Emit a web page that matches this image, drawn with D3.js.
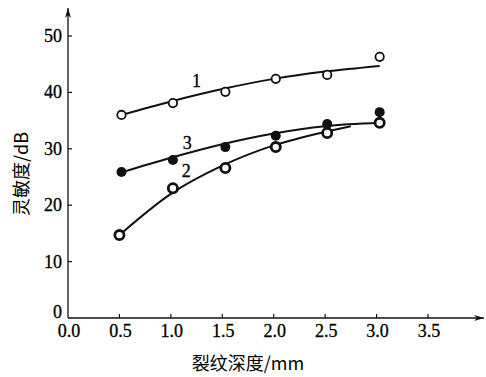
<html>
<head>
<meta charset="UTF-8">
<title>灵敏度-裂纹深度</title>
<style>
  body { margin: 0; background: #fff; }
  svg text { fill: #000; }
  svg text.num { stroke: #000; stroke-width: 0.3px; }
</style>
</head>
<body>
<div id="chart"></div>
<script src="https://cdnjs.cloudflare.com/ajax/libs/d3/7.8.4/d3.min.js"></script>
<script>
// measured points
const depth = [0.52, 1.02, 1.53, 2.02, 2.52, 3.03];
const series1 = [36.0, 38.1, 40.1, 42.4, 43.1, 46.3];
const series3 = [25.9, 28.0, 30.3, 32.3, 34.4, 36.5];
const depth2 = [0.5, 1.02, 1.53, 2.02, 2.52, 3.03];
const series2 = [14.7, 23.0, 26.6, 30.3, 32.8, 34.6];

// fitted curves
const fit1x = [0.52, 1.0, 1.5, 2.0, 2.5, 3.03];
const fit1y = [36.0, 38.4, 40.6, 42.4, 43.7, 44.7];
const fit3x = [0.52, 1.0, 1.5, 2.0, 2.5, 3.03];
const fit3y = [25.8, 28.4, 30.8, 32.7, 34.0, 34.6];
const fit2x = [0.5, 1.0, 1.5, 2.0, 2.5, 2.75];
const fit2y = [14.7, 22.0, 27.0, 30.6, 33.0, 34.0];

const xTicks = [0.0, 0.5, 1.0, 1.5, 2.0, 2.5, 3.0, 3.5];
const yTicks = [0, 10, 20, 30, 40, 50];

const W = 486, H = 377;
const svg = d3.select("#chart").append("svg")
  .attr("width", W).attr("height", H);

const x = d3.scaleLinear().domain([0, 3.5]).range([68, 428]);
const y = d3.scaleLinear().domain([0, 50]).range([318, 36]);

const serif = "'Liberation Serif', 'DejaVu Serif', serif";
const cjk = "'Noto Sans CJK SC', sans-serif";

// axes lines with arrows
svg.append("defs").append("marker")
  .attr("id", "arr").attr("viewBox", "0 0 10 6")
  .attr("refX", 10).attr("refY", 3)
  .attr("markerWidth", 10).attr("markerHeight", 6)
  .attr("markerUnits", "userSpaceOnUse")
  .attr("orient", "auto")
  .append("path").attr("d", "M0,0 L10,3 L0,6 L3,3 Z").attr("fill", "#111");

svg.append("line").attr("x1", x(0)).attr("y1", y(0)).attr("x2", 484).attr("y2", y(0))
  .attr("stroke", "#111").attr("stroke-width", 1.3).attr("marker-end", "url(#arr)");
svg.append("line").attr("x1", x(0)).attr("y1", y(0)).attr("x2", x(0)).attr("y2", 8)
  .attr("stroke", "#111").attr("stroke-width", 1.3).attr("marker-end", "url(#arr)");

// x ticks
const xg = svg.append("g");
xg.selectAll("line").data(xTicks.slice(1)).enter().append("line")
  .attr("x1", d => x(d)).attr("x2", d => x(d))
  .attr("y1", y(0)).attr("y2", y(0) - 4)
  .attr("stroke", "#111").attr("stroke-width", 1.2);
xg.selectAll("text").data(xTicks).enter().append("text")
  .attr("class", "num")
  .attr("x", d => x(d) + 1).attr("y", 337)
  .attr("text-anchor", "middle")
  .style("font-family", serif).style("font-size", "18px")
  .text(d => d.toFixed(1));

// y ticks (the 0 label sits a little higher, clear of 0.0)
const yg = svg.append("g");
yg.selectAll("line").data(yTicks.slice(1)).enter().append("line")
  .attr("x1", x(0)).attr("x2", x(0) + 4)
  .attr("y1", d => y(d)).attr("y2", d => y(d))
  .attr("stroke", "#111").attr("stroke-width", 1.2);
yg.selectAll("text").data(yTicks).enter().append("text")
  .attr("class", "num")
  .attr("x", 62).attr("y", d => d === 0 ? 318 : y(d) + 6)
  .attr("text-anchor", "end")
  .style("font-family", serif).style("font-size", "18px")
  .text(d => d);

// axis titles
svg.append("text")
  .attr("transform", "translate(28,174) rotate(-90)")
  .attr("text-anchor", "middle")
  .style("font-family", cjk).style("font-size", "18px")
  .text("灵敏度/dB");
svg.append("text")
  .attr("x", 248).attr("y", 370)
  .attr("text-anchor", "middle")
  .style("font-family", cjk).style("font-size", "18px")
  .text("裂纹深度/mm");

// curves
const line = d3.line().x(d => x(d[0])).y(d => y(d[1])).curve(d3.curveMonotoneX);
[[fit1x, fit1y], [fit3x, fit3y], [fit2x, fit2y]].forEach(([xs, ys]) => {
  svg.append("path")
    .datum(xs.map((v, i) => [v, ys[i]]))
    .attr("d", line)
    .attr("fill", "none").attr("stroke", "#111").attr("stroke-width", 2);
});

// markers
const pts = (xs, ys) => xs.map((v, i) => [v, ys[i]]);
svg.append("g").selectAll("circle").data(pts(depth, series1)).enter().append("circle")
  .attr("cx", d => x(d[0])).attr("cy", d => y(d[1])).attr("r", 4.2)
  .attr("fill", "#fff").attr("stroke", "#111").attr("stroke-width", 1.8);
svg.append("g").selectAll("circle").data(pts(depth, series3)).enter().append("circle")
  .attr("cx", d => x(d[0])).attr("cy", d => y(d[1])).attr("r", 5)
  .attr("fill", "#111");
const g2 = svg.append("g").selectAll("g").data(pts(depth2, series2)).enter().append("g")
  .attr("transform", d => `translate(${x(d[0])},${y(d[1])})`);
g2.append("circle").attr("r", 4.6).attr("fill", "#fff").attr("stroke", "#111").attr("stroke-width", 2.8);
g2.append("ellipse").attr("rx", 1.1).attr("ry", 2.3).attr("cx", 0.6).attr("fill", "#fff");

// curve labels
const labels = [["1", 1.25, 41], ["3", 1.16, 30], ["2", 1.15, 25]];
svg.append("g").selectAll("text").data(labels).enter().append("text")
  .attr("class", "num")
  .attr("x", d => x(d[1])).attr("y", d => y(d[2]))
  .attr("text-anchor", "middle")
  .style("font-family", serif).style("font-size", "18px")
  .text(d => d[0]);
</script>
</body>
</html>
